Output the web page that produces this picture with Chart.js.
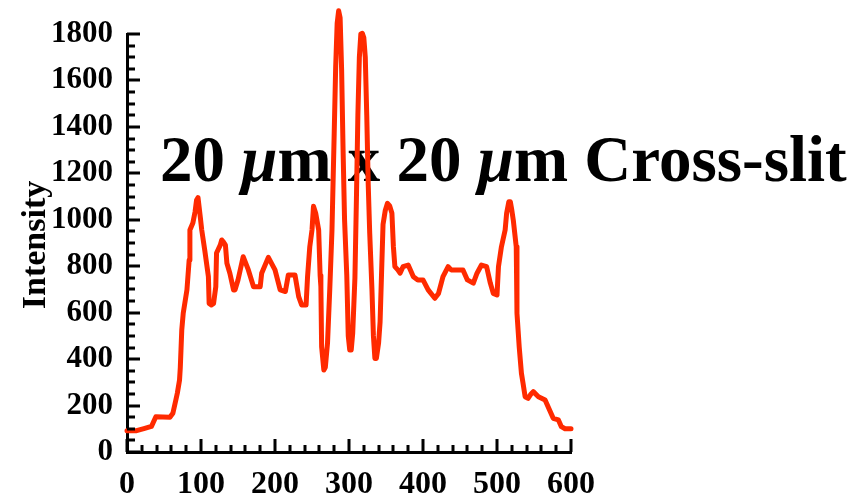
<!DOCTYPE html>
<html>
<head>
<meta charset="utf-8">
<script src="https://cdn.jsdelivr.net/npm/chart.js@4/dist/chart.umd.min.js"></script>
<style>
  html, body { margin: 0; padding: 0; background: #fff; }
  canvas { display: block; }
</style>
</head>
<body>
<canvas id="profile" width="848" height="503"></canvas>
<script>
// Line profile across the cross-slit: position along the scan and measured intensity
const positions = [
  0, 13, 24, 33, 39, 58, 62, 66, 68, 71, 72, 74, 76, 81, 84, 85, 89, 92, 94, 96,
  99, 101, 105, 110, 111, 114, 117, 120, 121, 126, 128, 130, 133, 135, 139, 144, 146, 150, 157, 164,
  171, 180, 182, 191, 200, 207, 214, 218, 227, 232, 236, 242, 244, 247, 250, 252, 255, 259, 261, 262,
  263, 266, 268, 271, 274, 277, 280, 282, 284, 286, 288, 290, 292, 294, 297, 299, 301, 303, 305, 308,
  310, 312, 314, 316, 318, 320, 322, 324, 326, 328, 331, 333, 335, 337, 340, 342, 344, 346, 349, 352,
  355, 358, 360, 362, 366, 369, 373, 380, 387, 393, 400, 407, 416, 421, 427, 434, 438, 448, 454, 460,
  468, 473, 479, 486, 491, 495, 500, 502, 506, 511, 513, 516, 518, 520, 522, 526, 527, 530, 533, 535,
  538, 542, 546, 549, 556, 565, 571, 576, 583, 587, 592, 600
];
const intensity = [
  92, 92, 102, 110, 152, 150, 167, 224, 253, 310, 362, 525, 598, 698, 827, 956, 986, 1035, 1085, 1095,
  1013, 956, 870, 755, 640, 633, 640, 712, 857, 891, 913, 906, 891, 813, 770, 698, 698, 741, 841, 784,
  712, 712, 770, 838, 784, 698, 691, 762, 762, 669, 633, 633, 755, 884, 956, 1058, 1028, 956, 760, 712,
  453, 353, 365, 470, 700, 956, 1372, 1659, 1846, 1900, 1870, 1650, 1300, 1000, 760, 500, 439, 439, 511, 750,
  1085, 1450, 1700, 1800, 1803, 1785, 1700, 1450, 1150, 942, 700, 500, 403, 403, 470, 560, 770, 980, 1040, 1071,
  1060, 1028, 884, 798, 784, 770, 798, 805, 755, 741, 741, 698, 662, 683, 755, 798, 784, 784, 784, 741,
  727, 770, 805, 798, 727, 683, 676, 798, 884, 956, 1028, 1078, 1078, 1042, 999, 884, 597, 453, 339, 300,
  238, 231, 250, 260, 238, 224, 181, 145, 138, 109, 100, 100
];

// Axis tick labels
const xTickValues = [0, 100, 200, 300, 400, 500, 600];
const yTickValues = [0, 200, 400, 600, 800, 1000, 1200, 1400, 1600, 1800];
const xMinorStep = 20;
const yMinorStep = 50;

const yAxisTitle = 'Intensity';
// Heading pieces; the Greek letters are set in italic
const headingParts = [
  { text: '20 ', italic: false },
  { text: 'μ', italic: true },
  { text: 'm x 20 ', italic: false },
  { text: 'μ', italic: true },
  { text: 'm Cross-slit', italic: false }
];

const SERIF = '"Liberation Serif", "Times New Roman", serif';

// Inward-pointing major and minor tick marks
const tickMarks = {
  id: 'tickMarks',
  afterDraw(chart) {
    const { ctx, chartArea, scales: { x, y } } = chart;
    ctx.save();
    ctx.strokeStyle = '#000';
    ctx.lineWidth = 3;
    ctx.lineCap = 'butt';
    ctx.beginPath();
    for (let v = x.min; v <= x.max + 1e-9; v += xMinorStep) {
      const px = Math.round(x.getPixelForValue(v));
      const len = xTickValues.includes(v) ? 13 : 7;
      ctx.moveTo(px, chartArea.bottom);
      ctx.lineTo(px, chartArea.bottom - len);
    }
    for (let v = y.min; v <= y.max + 1e-9; v += yMinorStep) {
      const py = Math.round(y.getPixelForValue(v));
      const len = yTickValues.includes(v) ? 13 : 8;
      ctx.moveTo(chartArea.left, py);
      ctx.lineTo(chartArea.left + len, py);
    }
    ctx.stroke();
    ctx.restore();
  }
};

// Large heading laid over the plot and the rotated y-axis title
const textLayer = {
  id: 'textLayer',
  beforeDatasetsDraw(chart) {
    const { ctx, chartArea } = chart;
    ctx.save();
    ctx.fillStyle = '#000';
    ctx.textBaseline = 'alphabetic';
    ctx.textAlign = 'left';
    let cx = 160;
    const baseY = 181;
    headingParts.forEach(part => {
      ctx.font = (part.italic ? 'italic ' : '') + 'bold 65px ' + SERIF;
      ctx.fillText(part.text, cx, baseY);
      cx += ctx.measureText(part.text).width;
    });

    ctx.translate(45, (chartArea.top + chartArea.bottom) / 2 + 2);
    ctx.rotate(-Math.PI / 2);
    ctx.textAlign = 'center';
    ctx.font = 'bold 34px ' + SERIF;
    ctx.fillText(yAxisTitle, 0, 0);
    ctx.restore();
  }
};

new Chart(document.getElementById('profile'), {
  type: 'line',
  data: {
    datasets: [{
      data: positions.map((p, i) => ({ x: p, y: intensity[i] })),
      borderColor: 'rgb(255, 42, 0)',
      borderWidth: 5,
      pointRadius: 0,
      tension: 0,
      clip: false,
      borderJoinStyle: 'round',
      borderCapStyle: 'round'
    }]
  },
  options: {
    responsive: false,
    animation: false,
    devicePixelRatio: 1,
    layout: { padding: { left: 0, top: 34, right: 277, bottom: 0 } },
    plugins: { legend: { display: false }, tooltip: { enabled: false }, title: { display: false } },
    scales: {
      x: {
        type: 'linear',
        min: 0,
        max: 600,
        afterBuildTicks: s => { s.ticks = xTickValues.map(v => ({ value: v })); },
        afterFit: s => { s.height = 51; },
        grid: { display: false, drawTicks: false },
        border: { display: true, width: 3, color: '#000' },
        ticks: {
          color: '#000',
          padding: 14,
          maxRotation: 0,
          autoSkip: false,
          callback: v => String(v),
          font: { family: SERIF, weight: 'bold', size: 32 }
        }
      },
      y: {
        type: 'linear',
        min: 0,
        max: 1800,
        afterBuildTicks: s => { s.ticks = yTickValues.map(v => ({ value: v })); },
        afterFit: s => { s.width = 127; },
        grid: { display: false, drawTicks: false },
        border: { display: true, width: 3, color: '#000' },
        ticks: {
          color: '#000',
          padding: 14,
          autoSkip: false,
          callback: v => String(v),
          font: { family: SERIF, weight: 'bold', size: 31 }
        }
      }
    }
  },
  plugins: [textLayer, tickMarks]
});
</script>
</body>
</html>
